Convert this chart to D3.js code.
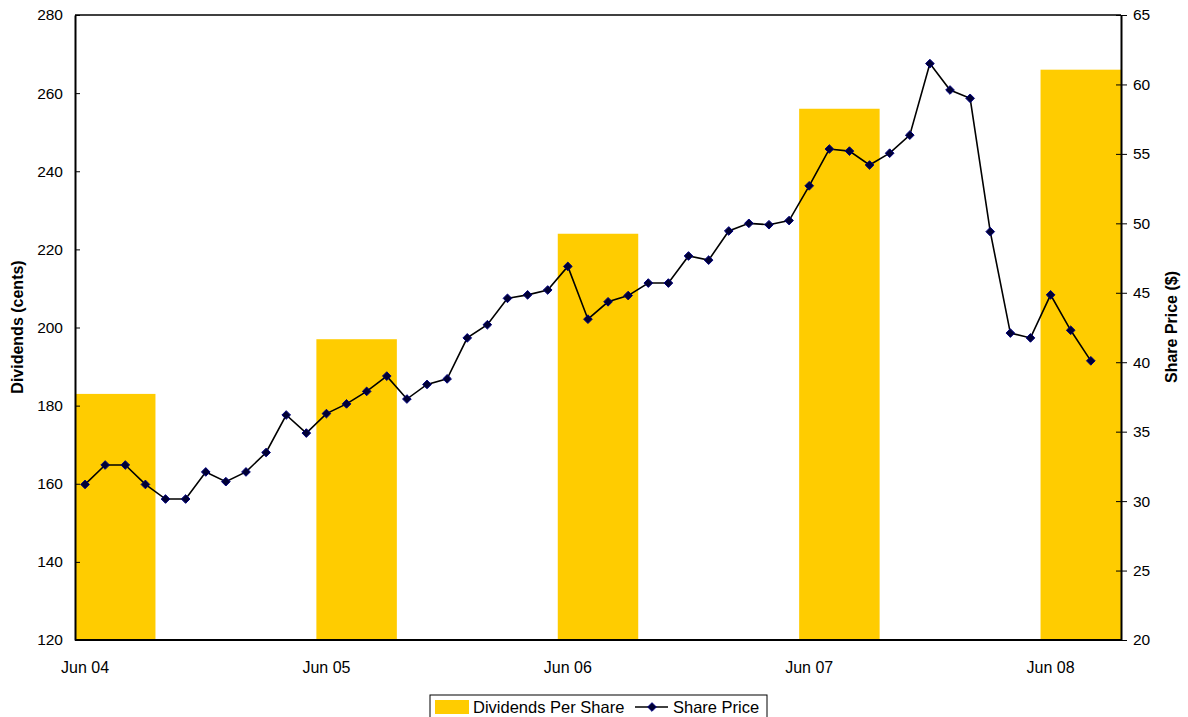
<!DOCTYPE html>
<html>
<head>
<meta charset="utf-8">
<script src="https://cdn.jsdelivr.net/npm/d3@7"></script>
<style>
  body { margin: 0; background: #fff; }
  text { font-family: "Liberation Sans", Arial, sans-serif; fill: #000; }
</style>
</head>
<body>
<svg id="chart" width="1188" height="717"></svg>
<script>
// month index 0 = Jun 04
let dividendMonths = [0, 12, 24, 36, 48];
let dividends = [183, 197, 224, 256, 266];
let tickMonths = [0, 12, 24, 36, 48];
let tickLabels = ["Jun 04", "Jun 05", "Jun 06", "Jun 07", "Jun 08"];
let sharePrice = [31.2, 32.6, 32.6, 31.2, 30.15, 30.15, 32.1, 31.4, 32.1, 33.5,
  36.2, 34.9, 36.3, 37.0, 37.9, 39.0, 37.35, 38.4, 38.8, 41.75,
  42.7, 44.6, 44.85, 45.2, 46.9, 43.1, 44.35, 44.8, 45.7, 45.7,
  47.65, 47.35, 49.45, 50.0, 49.9, 50.2, 52.7, 55.35, 55.2, 54.2,
  55.05, 56.35, 61.5, 59.6, 59.0, 49.4, 42.1, 41.75, 44.85, 42.3, 40.1];

let plotLeft = 75, plotRight = 1121, plotTop = 15, plotBottom = 640;

let svg = d3.select("#chart");

let x = d3.scaleLinear().domain([-0.5, 51.5]).range([plotLeft, plotRight]);
let yLeft = d3.scaleLinear().domain([120, 280]).range([plotBottom, plotTop]);
let yRight = d3.scaleLinear().domain([20, 65]).range([plotBottom, plotTop]);

// bars (each spans 4 months)
svg.append("g").selectAll("rect")
  .data(dividends)
  .join("rect")
  .attr("x", (d, i) => x(dividendMonths[i] - 0.5))
  .attr("width", (d, i) => x(dividendMonths[i] + 3.5) - x(dividendMonths[i] - 0.5))
  .attr("y", d => yLeft(d))
  .attr("height", d => plotBottom - yLeft(d))
  .attr("fill", "#FFCC00");

// share price line
let line = d3.line().x((d, i) => x(i)).y(d => yRight(d));
svg.append("path")
  .datum(sharePrice)
  .attr("d", line)
  .attr("fill", "none")
  .attr("stroke", "#000")
  .attr("stroke-width", 1.6);

svg.append("g").selectAll("path")
  .data(sharePrice)
  .join("path")
  .attr("d", d3.symbol(d3.symbolDiamond2, 48))
  .attr("transform", (d, i) => "translate(" + x(i) + "," + yRight(d) + ")")
  .attr("fill", "#000033")
  .attr("stroke", "#000080")
  .attr("stroke-width", 1);

// frame
svg.append("line").attr("x1", plotLeft).attr("x2", plotRight).attr("y1", plotTop).attr("y2", plotTop)
  .attr("stroke", "#000").attr("stroke-width", 1.5);
svg.append("line").attr("x1", plotLeft).attr("x2", plotRight).attr("y1", plotBottom).attr("y2", plotBottom)
  .attr("stroke", "#000").attr("stroke-width", 2);

// left axis
let gL = svg.append("g").attr("transform", "translate(" + plotLeft + ",0)")
  .call(d3.axisLeft(yLeft).tickValues(d3.range(120, 281, 20)).tickSize(5).tickSizeOuter(0));
gL.select(".domain").attr("stroke-width", 2);
gL.selectAll(".tick line").attr("x2", 5);
gL.selectAll("text").attr("font-size", 15.5).attr("x", -12).attr("font-family", "Liberation Sans, Arial");

// right axis
let gR = svg.append("g").attr("transform", "translate(" + plotRight + ",0)")
  .call(d3.axisRight(yRight).tickValues(d3.range(20, 66, 5)).tickSize(6).tickSizeOuter(0));
gR.select(".domain").attr("stroke-width", 2);
gR.selectAll(".tick line").attr("x1", -5);
gR.selectAll("text").attr("font-size", 15.5).attr("x", 12).attr("font-family", "Liberation Sans, Arial");

// bottom labels
svg.append("g").selectAll("text")
  .data(tickLabels)
  .join("text")
  .attr("x", (d, i) => x(tickMonths[i]))
  .attr("y", 673)
  .attr("text-anchor", "middle")
  .attr("font-size", 16)
  .text(d => d);

// axis titles
svg.append("text")
  .attr("transform", "translate(23,327) rotate(-90)")
  .attr("text-anchor", "middle")
  .attr("font-size", 16).attr("font-weight", "bold")
  .text("Dividends (cents)");
svg.append("text")
  .attr("transform", "translate(1177,327) rotate(-90)")
  .attr("text-anchor", "middle")
  .attr("font-size", 16).attr("font-weight", "bold")
  .text("Share Price ($)");

// legend
let lg = svg.append("g").attr("transform", "translate(430,695)");
lg.append("rect").attr("width", 337).attr("height", 30)
  .attr("fill", "#fff").attr("stroke", "#000").attr("stroke-width", 1);
lg.append("rect").attr("x", 5).attr("y", 5).attr("width", 34).attr("height", 14).attr("fill", "#FFCC00");
lg.append("text").attr("x", 43).attr("y", 18).attr("font-size", 16.5).text("Dividends Per Share");
lg.append("line").attr("x1", 205).attr("x2", 238).attr("y1", 12).attr("y2", 12)
  .attr("stroke", "#000").attr("stroke-width", 1.6);
lg.append("path").attr("d", d3.symbol(d3.symbolDiamond2, 48))
  .attr("transform", "translate(222,12)")
  .attr("fill", "#000033").attr("stroke", "#000080");
lg.append("text").attr("x", 243).attr("y", 18).attr("font-size", 16.5).text("Share Price");
</script>
</body>
</html>
